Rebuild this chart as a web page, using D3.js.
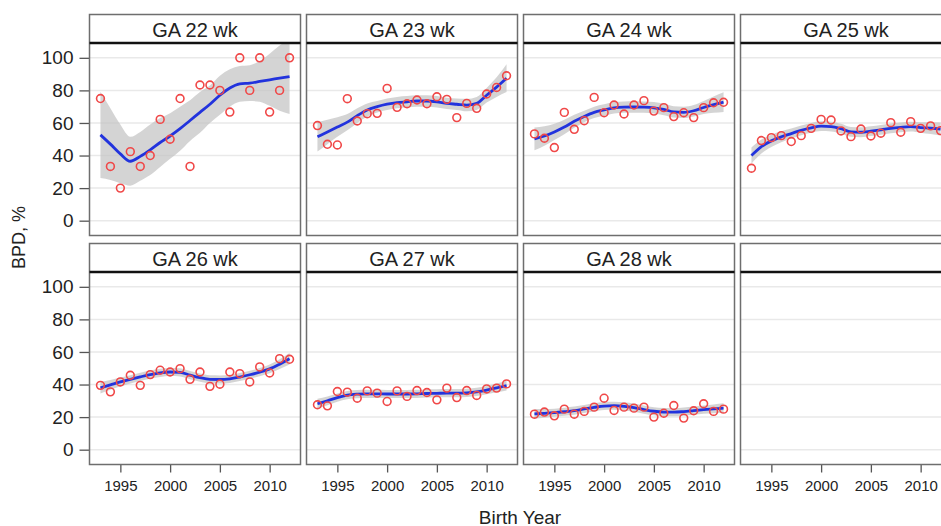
<!DOCTYPE html>
<html>
<head>
<meta charset="utf-8">
<script src="https://cdn.jsdelivr.net/npm/d3@7"></script>
<style>
  html, body { margin: 0; padding: 0; background: #fff; }
  svg { display: block; font-family: "Liberation Sans", Arial, Helvetica, sans-serif; }
</style>
</head>
<body>
<svg id="chart" width="941" height="526"></svg>
<script>
// Birth years on the x axis
const years = [1993,1994,1995,1996,1997,1998,1999,2000,2001,2002,2003,2004,2005,2006,2007,2008,2009,2010,2011,2012];
const panelLabels = ["GA 22 wk","GA 23 wk","GA 24 wk","GA 25 wk","GA 26 wk","GA 27 wk","GA 28 wk",""];
const xTicks = [1995, 2000, 2005, 2010];
const yTicks = [0, 20, 40, 60, 80, 100];

// Observed BPD rate (%) per birth year, one array per gestational age
const bpd22 = [75,33.3,20,42.4,33.3,40,62.2,50,75,33.3,83.3,83.3,80,66.7,100,80,100,66.7,80,100];
const bpd23 = [58.4,46.9,46.5,74.9,61.2,65.7,65.9,81.2,69.6,71.8,74.1,71.8,76.1,74.5,63.3,72,69,77.8,81.8,89];
const bpd24 = [53.3,50.6,44.9,66.5,56.1,61.4,75.7,66.3,71,65.5,71,73.7,67.3,69.4,63.9,66.3,63.3,69.4,72.4,72.7];
const bpd25 = [32.2,49.2,51,52.2,48.6,52.2,56.7,62.2,61.8,55.1,51.6,56.3,52,53.7,60.2,54.3,60.8,56.7,58.2,55.3];
const bpd26 = [39.5,35.5,41.6,45.7,39.5,46.1,48.8,47.7,49.8,43.2,47.7,38.9,40.2,47.7,46.7,41.6,50.8,47.1,55.9,55.5];
const bpd27 = [27.6,26.9,35.7,35.3,31.6,36.1,34.7,29.6,36.1,32.7,36.3,35.1,30.6,37.8,32,36.3,33.3,37.3,37.8,40.4];
const bpd28 = [21.8,23.1,20.8,24.9,21.8,23.5,26.1,31.6,24.1,26.1,25.5,26.1,20,22.4,27.1,19.4,23.9,28.2,23.5,24.9];

// Smoothed trend per birth year
const fit22 = [52.7,47,41,36.5,39.5,43.5,48,52,56.5,61.5,66.5,71.5,77,81.5,84,84.5,85.5,86.5,87.5,88.5];
const fit23 = [51.5,54.5,57.5,60.5,64.5,68,70,71.5,72.5,73,73.5,73.5,73,72,71.5,71,72,77,82,87.5];
const fit24 = [50.2,52,54.5,57.5,61,64,66.5,68,69.3,69.7,69.8,69.7,69.3,68.3,66.8,66.5,67.5,69.5,71.2,72.8];
const fit25 = [40,45.5,49,51.5,53.5,55.5,57,58,57.8,56.5,54.5,54.3,55,55.8,56.7,57.3,57.7,57.2,56.8,56.3];
const fit26 = [38,39.8,41.6,43.2,44.7,46.1,47.2,47.7,47.5,45.8,44.2,43.2,43.1,43.5,44.6,46,47.6,49.6,52.5,55.8];
const fit27 = [28.2,30,32,33.5,34.1,34.3,34.3,34.2,34.2,34.2,34.3,34.5,34.6,34.7,34.7,34.9,35.5,36.6,37.9,39.4];
const fit28 = [22,22.3,22.7,23.3,24,25,26,26.8,27,26.6,25.8,24.6,23.6,23.1,23,23.4,24,24.6,25.1,25.5];

// Half-width of the confidence band around the trend
const ci22 = [26.5,22,18,15,15,15.5,15,14,13.5,12.5,12.5,11.5,12,11.5,11,11,12.5,16,20,23];
const ci23 = [9,7.5,6,5,4.5,4,3.5,3.5,3.5,3.5,3.5,3.5,3.5,3.5,3.5,3.8,4,4.5,6,8.5];
const ci24 = [7,6,5,4.5,4,3.5,3.5,3.5,3.5,3.5,3.5,3.5,3.5,3.5,3.5,3.5,3.5,4,5,6];
const ci25 = [5,4.3,3.8,3.4,3.1,3,3,3,3,3,3,3,3,3,3,3,3,3.2,3.6,4];
const ci26 = [3.5,3,2.7,2.5,2.5,2.5,2.5,2.5,2.5,2.5,2.5,2.5,2.5,2.5,2.5,2.5,2.5,2.7,3,3.5];
const ci27 = [3,2.7,2.5,2.5,2.5,2.5,2.5,2.5,2.5,2.5,2.5,2.5,2.5,2.5,2.5,2.5,2.5,2.5,2.7,3];
const ci28 = [3,2.7,2.5,2.5,2.5,2.5,2.5,2.5,2.5,2.5,2.5,2.5,2.5,2.5,2.5,2.5,2.5,2.5,2.7,3];

const observed = [bpd22,bpd23,bpd24,bpd25,bpd26,bpd27,bpd28,null];
const fits = [fit22,fit23,fit24,fit25,fit26,fit27,fit28,null];
const cis = [ci22,ci23,ci24,ci25,ci26,ci27,ci28,null];

// Layout of the 4 x 2 trellis
const nCols = 4;
const left0 = 89.5, colPitch = 217, panelW = 211;
const top0 = 14.5, rowPitch = 229, stripH = 28.5, plotH = 192.5;

const svg = d3.select("#chart");

const x = d3.scaleLinear().domain([1991.9, 2013.1]).range([0, panelW]);
const y = d3.scaleLinear().domain([-9.1, 109.1]).range([plotH, 0]);

const line = d3.line()
  .x((d, i) => x(years[i]))
  .y(d => y(d))
  .curve(d3.curveMonotoneX);

const area = d3.area()
  .x(d => x(d.year))
  .y0(d => y(d.lo))
  .y1(d => y(d.hi))
  .curve(d3.curveMonotoneX);

const defs = svg.append("defs");

panelLabels.forEach((label, p) => {
  const col = p % nCols, row = Math.floor(p / nCols);
  const px = left0 + col * colPitch;
  const py = top0 + row * rowPitch;

  const g = svg.append("g").attr("transform", `translate(${px},${py})`);

  // Strip with panel title
  g.append("rect")
    .attr("x", 0).attr("y", 0).attr("width", panelW).attr("height", stripH)
    .attr("fill", "#fff");
  g.append("text")
    .attr("x", panelW / 2).attr("y", stripH / 2 + 1)
    .attr("text-anchor", "middle").attr("dominant-baseline", "central")
    .attr("font-size", 20).attr("fill", "#222")
    .text(label);

  const plot = g.append("g").attr("transform", `translate(0,${stripH})`);

  defs.append("clipPath").attr("id", "clip" + p)
    .append("rect").attr("width", panelW).attr("height", plotH);

  // Horizontal reference lines
  plot.append("g").selectAll("line").data(yTicks).join("line")
    .attr("x1", 0).attr("x2", panelW)
    .attr("y1", d => y(d)).attr("y2", d => y(d))
    .attr("stroke", "#e9e9e9").attr("stroke-width", 1.5);

  if (observed[p]) {
    const band = years.map((yr, i) => ({ year: yr, lo: fits[p][i] - cis[p][i], hi: fits[p][i] + cis[p][i] }));
    const layer = plot.append("g").attr("clip-path", `url(#clip${p})`);

    layer.append("path").datum(band)
      .attr("d", area)
      .attr("fill", "#c4c4c4").attr("fill-opacity", 0.72);

    layer.append("path").datum(fits[p])
      .attr("d", line)
      .attr("fill", "none").attr("stroke", "#2233dd").attr("stroke-width", 2.8);

    layer.append("g").selectAll("circle").data(observed[p]).join("circle")
      .attr("cx", (d, i) => x(years[i]))
      .attr("cy", d => y(d))
      .attr("r", 3.9)
      .attr("fill", "none").attr("stroke", "#f04848").attr("stroke-width", 1.6);
  }

  // Panel frame and strip divider
  g.append("rect")
    .attr("x", 0).attr("y", 0).attr("width", panelW).attr("height", stripH + plotH)
    .attr("fill", "none").attr("stroke", "#6e6e6e").attr("stroke-width", 1.5);
  g.append("line")
    .attr("x1", 0).attr("x2", panelW).attr("y1", stripH).attr("y2", stripH)
    .attr("stroke", "#111").attr("stroke-width", 2.4);

  // Left axis on first column
  if (col === 0) {
    const ya = plot.append("g")
      .call(d3.axisLeft(y).tickValues(yTicks).tickSize(10).tickPadding(6));
    ya.select(".domain").remove();
    ya.selectAll("line").attr("stroke", "#555").attr("stroke-width", 1.3);
    ya.selectAll("text").attr("font-size", 19).attr("fill", "#222")
      .attr("font-family", "Liberation Sans, Arial, sans-serif");
  }

  // Bottom axis on second row
  if (row === 1) {
    const xa = plot.append("g").attr("transform", `translate(0,${plotH})`)
      .call(d3.axisBottom(x).tickValues(xTicks).tickFormat(d3.format("d")).tickSize(8).tickPadding(8));
    xa.select(".domain").remove();
    xa.selectAll("line").attr("stroke", "#555").attr("stroke-width", 1.3);
    xa.selectAll("text").attr("font-size", 15).attr("fill", "#222")
      .attr("font-family", "Liberation Sans, Arial, sans-serif");
  }
});

// Axis titles
svg.append("text")
  .attr("transform", "translate(18.5,237.5) rotate(-90)")
  .attr("text-anchor", "middle").attr("dominant-baseline", "central")
  .attr("font-size", 18).attr("fill", "#222")
  .text("BPD, %");

svg.append("text")
  .attr("x", 520).attr("y", 517)
  .attr("text-anchor", "middle").attr("dominant-baseline", "central")
  .attr("font-size", 19).attr("fill", "#222")
  .text("Birth Year");
</script>
</body>
</html>
